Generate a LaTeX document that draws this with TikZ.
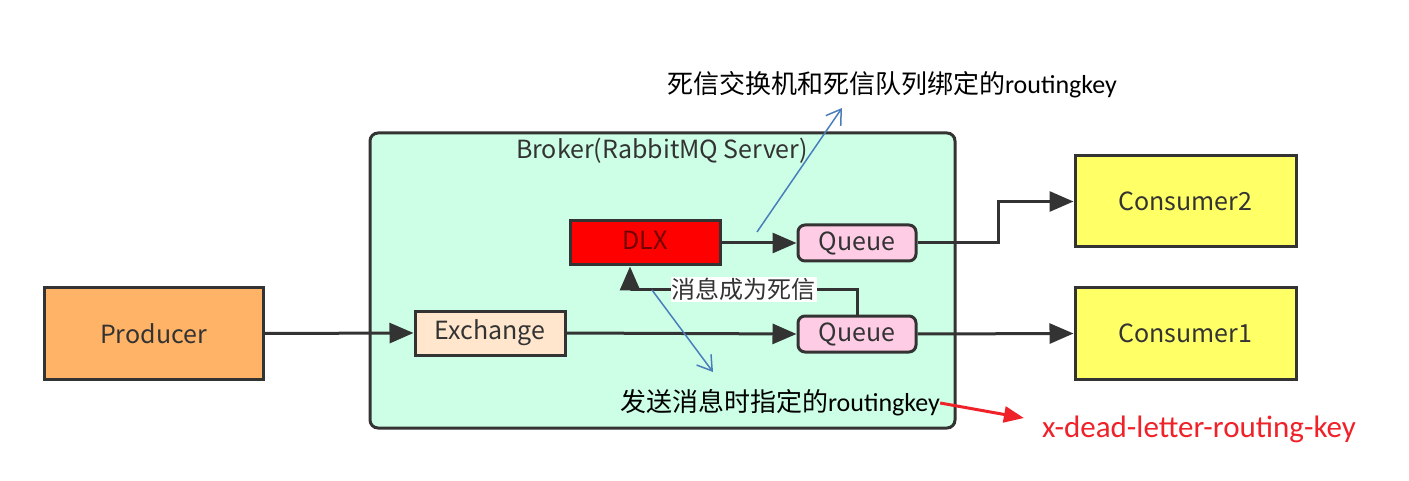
\documentclass[tikz,border=0pt]{standalone}
\usepackage{fontspec}
\setmainfont{Noto Sans CJK SC}
\newfontfamily\latinfont{Carlito}
\usetikzlibrary{
    arrows.meta,
    positioning,
    calc
}
\definecolor{LineGray}{RGB}{51,51,51}
\definecolor{BrokerMint}{RGB}{204,255,230}
\definecolor{ProdOrange}{RGB}{255,179,102}
\definecolor{ExchPeach}{RGB}{255,230,204}
\definecolor{QueuePink}{RGB}{255,204,230}
\definecolor{ConsYellow}{RGB}{255,255,102}
\definecolor{NoteBlue}{RGB}{74,126,187}
\definecolor{NoteRed}{RGB}{238,34,40}
\tikzset{
  box/.style    = {draw=LineGray, line width=3pt, text=LineGray,
                   font=\fontsize{25}{29}\selectfont, inner sep=0pt},
  qbox/.style   = {box, rounded corners=7pt, fill=QueuePink,
                   minimum width=118pt, minimum height=36pt},
  cbox/.style   = {box, fill=ConsYellow, minimum width=221pt, minimum height=91pt},
  arr/.style    = {-{Triangle[length=24pt,width=20pt]}, line width=3pt, LineGray},
  note/.style   = {-{Straight Barb[length=14pt,width=18pt]}, line width=1.5pt, NoteBlue},
  ann/.style    = {font=\fontsize{26}{30}\selectfont, text=black, inner sep=0pt}
}

\begin{document}
\begin{tikzpicture}[x=1pt, y=-1pt]
\useasboundingbox (0,0) rectangle (1409,481);
% broker frame
\node[box, rounded corners=8pt, fill=BrokerMint, minimum width=585pt, minimum height=295pt] (broker) at (662.5,280.5) {};
\node[text=LineGray, font=\fontsize{25}{29}\selectfont, inner sep=0pt] (title) at (662,151) {Broker(RabbitMQ Server)};
% boxes
\node[box, fill=ProdOrange, minimum width=219pt, minimum height=91pt] (producer) at (153.5,333.5) {Producer};
\node[box, fill=ExchPeach, minimum width=150pt, minimum height=44pt] (exchange) at (490,333) {\raisebox{4pt}{Exchange}};
\node[box, fill=red, text=black!55!red, minimum width=150pt, minimum height=44pt] (dlx) at (645,243) {\raisebox{5pt}{DLX}};
\node[qbox] (queue2) at (857,243) {Queue};
\node[qbox] (queue1) at (857,334) {Queue};
\node[cbox] (consumer2) at (1185.5,201.5) {Consumer2};
\node[cbox] (consumer1) at (1185.5,333.5) {Consumer1};
% annotations
\node[ann] (bindkey) at (892,85) {死信交换机和死信队列绑定的{\latinfont routingkey}};
\node[ann] (sendkey) at (780,403) {发送消息时指定的{\latinfont routingkey}};
\node[ann, text=NoteRed, font=\latinfont\fontsize{31}{35}\selectfont] (xkey) at (1199,429) {x-dead-letter-routing-key};

% flows
\draw[arr] (producer.east) -- (exchange.west);
\draw[arr] (exchange.east) -- (queue1.west);
\draw[arr] (dlx.east) -- (queue2.west);
\draw[arr] (queue2.east) -- ++(81,0) |- (consumer2.west);
\draw[arr] (queue1.east) -- (consumer1.west);
\draw[arr] (queue1.north) -- ++(0,-25) -| ([xshift=-15pt]dlx.south)
  node[pos=0.25, fill=white, text=LineGray, inner sep=1pt, font=\fontsize{24}{28}\selectfont] (dead) {消息成为死信};

% notes
\coordinate (n1a) at (757,232);
\coordinate (n1b) at (842,108);
\coordinate (n2a) at (652,290);
\coordinate (n2b) at (713,372);
\draw[note] (n1a) -- (n1b);
\draw[note] (n2a) -- (n2b);
\draw[-{Triangle[length=20pt,width=16pt]}, line width=3pt, NoteRed] (sendkey.east) -- ([xshift=-18pt,yshift=11pt]xkey.west);
\end{tikzpicture}
\end{document}
